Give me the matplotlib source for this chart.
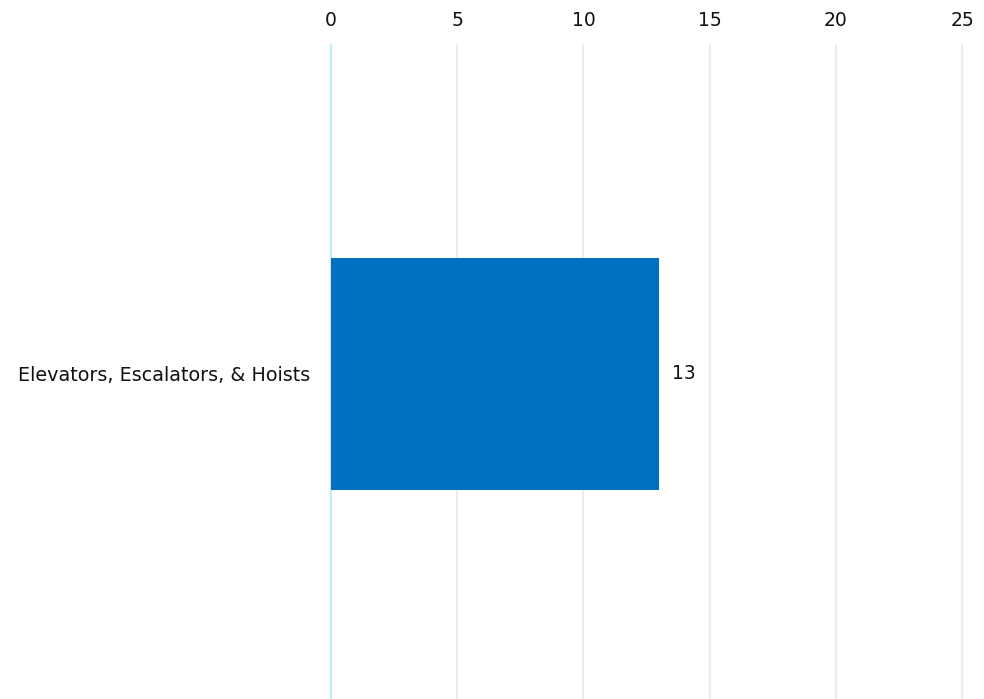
import matplotlib.pyplot as plt

categories = ["Elevators, Escalators, & Hoists"]
values = [13]
x_ticks = [0, 5, 10, 15, 20, 25]

plt.rcParams['font.family'] = ['DejaVu Sans']

fig = plt.figure(figsize=(9.84, 6.99), dpi=100)
ax = fig.add_axes([0.3364, 0.0, 0.6413, 0.9356])

bars = ax.barh(categories, values, height=0.355, color='#0070c0', zorder=3)
ax.set_xlim(0, 25)
ax.set_ylim(-0.497, 0.503)
ax.set_xticks(x_ticks)

# light grid, zero line tinted blue
for t in x_ticks:
    ax.axvline(t, color='#bfeafc' if t == 0 else '#ececec', linewidth=1.5,
               zorder=1, clip_on=False)

for b, v in zip(bars, values):
    ax.text(b.get_width() + 0.5, b.get_y() + b.get_height() / 2, str(v),
            va='center', ha='left', fontsize=13.5, color='#111111')

ax.xaxis.tick_top()
ax.tick_params(axis='x', length=0, pad=11, labelsize=13.5, colors='#111111')
ax.tick_params(axis='y', length=0, pad=15, labelsize=13.8, colors='#111111')
for s in ax.spines.values():
    s.set_visible(False)

fig.savefig('out.png', dpi=100)
